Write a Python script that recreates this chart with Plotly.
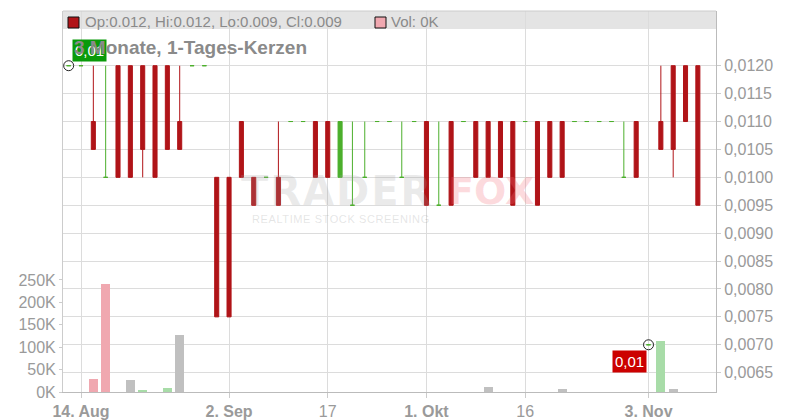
import plotly.graph_objects as go

FONT = "Liberation Sans, Arial, sans-serif"

# ---------------- data ----------------
dates = [
    "2025-08-13", "2025-08-14", "2025-08-15", "2025-08-18", "2025-08-19", "2025-08-20",
    "2025-08-21", "2025-08-22", "2025-08-26", "2025-08-27", "2025-08-28", "2025-08-29",
    "2025-09-01", "2025-09-02", "2025-09-03", "2025-09-04", "2025-09-08", "2025-09-09",
    "2025-09-11", "2025-09-12", "2025-09-16", "2025-09-17", "2025-09-18", "2025-09-22",
    "2025-09-23", "2025-09-24", "2025-09-25", "2025-09-29", "2025-09-30", "2025-10-01",
    "2025-10-02", "2025-10-06", "2025-10-07", "2025-10-09", "2025-10-10", "2025-10-14",
    "2025-10-15", "2025-10-16", "2025-10-17", "2025-10-20", "2025-10-21", "2025-10-23",
    "2025-10-24", "2025-10-27", "2025-10-29", "2025-10-30", "2025-10-31", "2025-11-03",
    "2025-11-04", "2025-11-05", "2025-11-06", "2025-11-07",
]
opens = [
    0.012, 0.012, 0.011, 0.010, 0.012, 0.012, 0.012, 0.012, 0.012, 0.011, 0.012, 0.012,
    0.010, 0.010, 0.011, 0.010, 0.010, 0.010, 0.011, 0.011, 0.011, 0.011, 0.010, 0.0095,
    0.010, 0.011, 0.011, 0.010, 0.011, 0.011, 0.0095, 0.011, 0.011, 0.011, 0.011, 0.011,
    0.011, 0.011, 0.011, 0.011, 0.011, 0.011, 0.011, 0.011, 0.011, 0.010, 0.011, 0.007,
    0.011, 0.012, 0.012, 0.012,
]
highs = [
    0.012, 0.012, 0.012, 0.012, 0.012, 0.012, 0.012, 0.012, 0.012, 0.012, 0.012, 0.012,
    0.010, 0.010, 0.011, 0.010, 0.010, 0.011, 0.011, 0.011, 0.011, 0.011, 0.011, 0.011,
    0.011, 0.011, 0.011, 0.011, 0.011, 0.011, 0.011, 0.011, 0.011, 0.011, 0.011, 0.011,
    0.011, 0.011, 0.011, 0.011, 0.011, 0.011, 0.011, 0.011, 0.011, 0.011, 0.011, 0.007,
    0.012, 0.012, 0.012, 0.012,
]
lows = [
    0.012, 0.012, 0.0105, 0.010, 0.010, 0.010, 0.010, 0.010, 0.0105, 0.0105, 0.012, 0.012,
    0.0075, 0.0075, 0.010, 0.0095, 0.010, 0.0095, 0.011, 0.011, 0.010, 0.010, 0.010, 0.0095,
    0.010, 0.011, 0.011, 0.010, 0.011, 0.0095, 0.0095, 0.0095, 0.011, 0.010, 0.010, 0.010,
    0.0095, 0.011, 0.0095, 0.010, 0.010, 0.011, 0.011, 0.011, 0.011, 0.010, 0.010, 0.007,
    0.0105, 0.010, 0.011, 0.0095,
]
closes = [
    0.012, 0.012, 0.0105, 0.010, 0.010, 0.010, 0.0105, 0.010, 0.0105, 0.0105, 0.012, 0.012,
    0.0075, 0.0075, 0.010, 0.0095, 0.010, 0.0095, 0.011, 0.011, 0.010, 0.010, 0.011, 0.0095,
    0.010, 0.011, 0.011, 0.010, 0.011, 0.0095, 0.0095, 0.0095, 0.011, 0.010, 0.010, 0.010,
    0.0095, 0.011, 0.0095, 0.010, 0.010, 0.011, 0.011, 0.011, 0.011, 0.010, 0.010, 0.007,
    0.0105, 0.0105, 0.011, 0.0095,
]
volumes = [
    0, 0, 29000, 241000, 0, 27000, 3000, 0, 10000, 127000, 0, 0,
    0, 0, 0, 0, 0, 0, 0, 0, 0, 0, 0, 0,
    0, 0, 0, 0, 0, 0, 0, 0, 0, 0, 11000, 0,
    0, 0, 0, 0, 6000, 0, 0, 0, 0, 0, 0, 0,
    114000, 6000, 0, 0,
]
tick_dates = ["2025-08-14", "2025-09-02", "2025-09-17", "2025-10-01", "2025-10-16", "2025-11-03"]
tick_labels = ["<b>14. Aug</b>", "<b>2. Sep</b>", "17", "<b>1. Okt</b>", "16", "<b>3. Nov</b>"]
price_ticks = [0.0065, 0.0070, 0.0075, 0.0080, 0.0085, 0.0090, 0.0095,
               0.0100, 0.0105, 0.0110, 0.0115, 0.0120]
vol_ticks = [0, 50000, 100000, 150000, 200000, 250000]
vol_labels = ["0K", "50K", "100K", "150K", "200K", "250K"]

RED = "#B01418"
GREEN = "#4CAF2C"
VOL_UP = "#A8DCA8"
VOL_DOWN = "#F0A8B0"
VOL_FLAT = "#C0C0C0"

n = len(dates)
up_idx = [i for i in range(n) if closes[i] >= opens[i]]
down_idx = [i for i in range(n) if closes[i] < opens[i]]

vol_colors = []
for i in range(n):
    if i == 0 or closes[i] == closes[i - 1]:
        vol_colors.append(VOL_FLAT)
    elif closes[i] > closes[i - 1]:
        vol_colors.append(VOL_UP)
    else:
        vol_colors.append(VOL_DOWN)

# ---------------- geometry helpers (pixels -> paper) ----------------
PL, PR, PT, PB = 63, 716, 11, 392


def px(x):
    return (x - PL) / (PR - PL)


def py(y):
    return (PB - y) / (PB - PT)


def candle(idx, color):
    style = dict(line=dict(color=color, width=1), fillcolor=color)
    return go.Candlestick(
        x=[dates[i] for i in idx],
        open=[opens[i] for i in idx],
        high=[highs[i] for i in idx],
        low=[lows[i] for i in idx],
        close=[closes[i] for i in idx],
        increasing=style, decreasing=style,
        whiskerwidth=0, showlegend=False, hoverinfo="skip",
        yaxis="y",
    )


fig = go.Figure()
fig.add_trace(go.Bar(x=dates, y=volumes, marker=dict(color=vol_colors, line=dict(width=0)),
                     width=0.73, yaxis="y2", showlegend=False, hoverinfo="skip"))
fig.add_trace(candle(down_idx, RED))
fig.add_trace(candle(up_idx, GREEN))

hi_i = highs.index(max(highs))
lo_i = lows.index(min(lows))
fig.add_trace(go.Scatter(
    x=[dates[hi_i], dates[lo_i]], y=[highs[hi_i], lows[lo_i]], mode="markers",
    marker=dict(symbol="circle-open", size=10, color="#222", line=dict(width=1)),
    showlegend=False, hoverinfo="skip", yaxis="y"))

axis_font = dict(family=FONT, size=16, color="#9a9a9a")
WM_FONT = "DejaVu Sans, Liberation Sans, sans-serif"

fig.update_layout(
    width=800, height=420,
    margin=dict(l=PL, r=800 - PR, t=PT, b=420 - PB),
    paper_bgcolor="white", plot_bgcolor="white",
    separators=",.",
    bargap=0,
    boxgap=0.53,
    font=dict(family=FONT),
    xaxis=dict(
        type="category", categoryorder="array", categoryarray=dates,
        range=[-0.459, 52.47], automargin=False,
        tickvals=tick_dates, ticktext=tick_labels,
        showgrid=True, gridcolor="#dcdcdc", gridwidth=1,
        showline=True, linecolor="#bbbbbb", linewidth=1,
        ticks="outside", ticklen=5, tickcolor="#cccccc",
        tickfont=axis_font, rangeslider=dict(visible=False), fixedrange=True,
    ),
    yaxis=dict(
        side="right", range=[0.006154, 0.01298], automargin=False,
        tickvals=price_ticks, tickformat=".4f",
        showgrid=True, gridcolor="#dcdcdc", gridwidth=1, zeroline=False,
        showline=True, linecolor="#bbbbbb", linewidth=1,
        ticks="outside", ticklen=4, tickcolor="#cccccc",
        tickfont=axis_font, fixedrange=True,
    ),
    yaxis2=dict(
        overlaying="y", side="left", range=[0, 850000], automargin=False,
        tickvals=vol_ticks, ticktext=vol_labels,
        showgrid=False, zeroline=False,
        showline=True, linecolor="#cccccc", linewidth=1,
        ticks="outside", ticklen=3, tickcolor="#cccccc",
        tickfont=axis_font, fixedrange=True,
    ),
    shapes=[
        dict(type="rect", xref="paper", yref="paper", x0=0, x1=1, y0=py(29), y1=1,
             fillcolor="#E4E4E4", line=dict(width=0), layer="below"),
        dict(type="line", xref="paper", yref="paper", x0=0, x1=1, y0=1, y1=1,
             line=dict(color="#cccccc", width=1)),
        dict(type="rect", xref="paper", yref="paper", x0=px(68), x1=px(79), y0=py(28), y1=py(17),
             fillcolor=RED, line=dict(color="#111", width=1)),
        dict(type="rect", xref="paper", yref="paper", x0=px(375), x1=px(386), y0=py(28), y1=py(17),
             fillcolor=VOL_DOWN, line=dict(color="#111", width=1)),
    ],
    annotations=[
        dict(xref="paper", yref="paper", x=px(239), y=py(191), xanchor="left", yanchor="middle",
             text="<b><span style='letter-spacing:2px'>TRADER</span></b>", showarrow=False,
             font=dict(family=WM_FONT, size=40, color="rgba(160,160,160,0.22)")),
        dict(xref="paper", yref="paper", x=px(446), y=py(191), xanchor="left", yanchor="middle",
             text="<b>FOX</b>", showarrow=False,
             font=dict(family=WM_FONT, size=38, color="rgba(245,110,120,0.25)")),
        dict(xref="paper", yref="paper", x=px(250), y=py(219), xanchor="left", yanchor="middle",
             text="<span style='letter-spacing:0.6px'>REALTIME STOCK SCREENING</span>",
             showarrow=False,
             font=dict(family=FONT, size=11, color="rgba(150,150,150,0.25)")),
        dict(x=dates[hi_i], y=highs[hi_i], xref="x", yref="y", xanchor="left", yanchor="bottom",
             xshift=3, yshift=4, text="0,01", showarrow=False, bgcolor="#0A9A0A",
             borderpad=2, font=dict(family=FONT, size=15, color="white")),
        dict(x=dates[lo_i], y=lows[lo_i], xref="x", yref="y", xanchor="right", yanchor="top",
             xshift=-2, yshift=-5, text="0,01", showarrow=False, bgcolor="#CC0000",
             borderpad=2, font=dict(family=FONT, size=15, color="white")),
        dict(xref="paper", yref="paper", x=px(72), y=py(47), xanchor="left", yanchor="middle",
             text="<b>3 Monate, 1-Tages-Kerzen</b>", showarrow=False,
             font=dict(family=FONT, size=19, color="#8a8a8a")),
        dict(xref="paper", yref="paper", x=px(83), y=py(22), xanchor="left", yanchor="middle",
             text="Op:0.012, Hi:0.012, Lo:0.009, Cl:0.009", showarrow=False,
             font=dict(family=FONT, size=15, color="#8a8a8a")),
        dict(xref="paper", yref="paper", x=px(389), y=py(22), xanchor="left", yanchor="middle",
             text="Vol: 0K", showarrow=False,
             font=dict(family=FONT, size=15, color="#8a8a8a")),
    ],
)

fig.write_html("out.html", config={"displayModeBar": False},
               post_script="document.body.style.margin='0';document.body.style.overflow='hidden';")
